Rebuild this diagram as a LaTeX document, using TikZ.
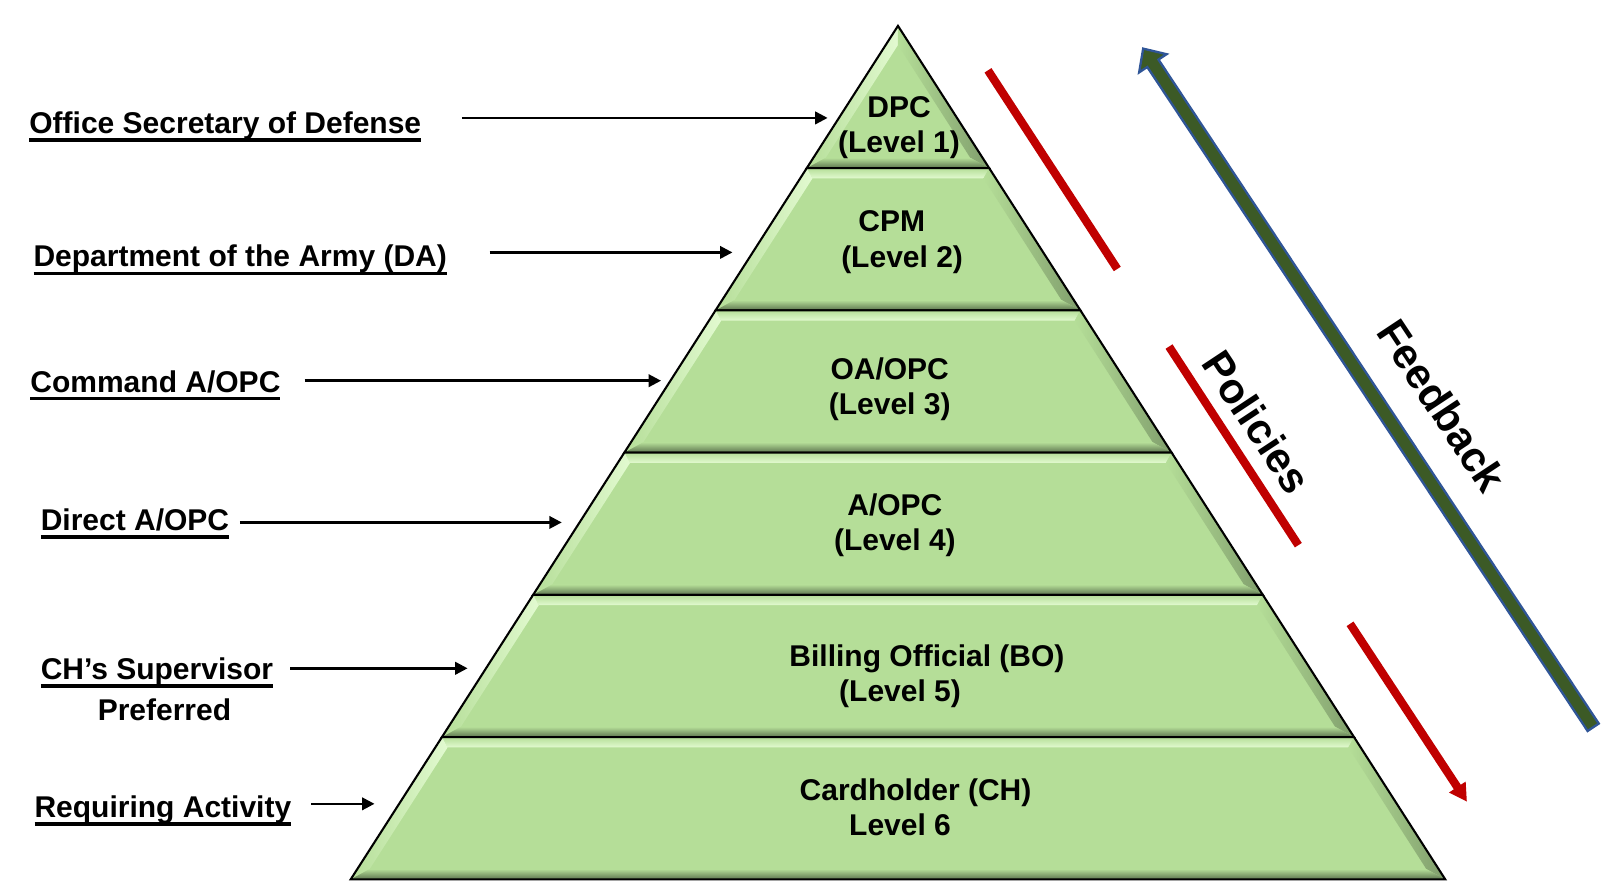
\documentclass[tikz,border=0pt]{standalone}
\usepackage{fontspec}
\setmainfont{Liberation Sans}
\usetikzlibrary{arrows.meta}
\definecolor{tierfill}{RGB}{181,222,152}
\definecolor{tierlight}{RGB}{226,250,208}
\definecolor{tierdark}{RGB}{92,116,78}
\definecolor{tierside}{RGB}{128,158,108}
\definecolor{policyred}{RGB}{192,0,0}
\definecolor{fbgreen}{RGB}{60,90,38}
\definecolor{fbblue}{RGB}{47,85,151}
\newcommand{\lvlul}[1]{\setbox0\hbox{#1}\rlap{\rule[-4pt]{\wd0}{1.7pt}}\box0}
\tikzset{
  lvllabel/.style={anchor=base west, inner sep=0pt, font=\bfseries\fontsize{14.5}{17}\selectfont},
  tiertext/.style={align=center, inner sep=0pt, font=\bfseries\fontsize{14.5}{17}\selectfont},
  lvlarrow/.style={-{Triangle[length=6pt,width=6pt]}, line width=1.2pt},
  redbar/.style={policyred, line width=4pt},
  sidetext/.style={rotate=-56.5, inner sep=0pt, font=\bfseries\fontsize{20.5}{24}\selectfont}
}

\begin{document}
\begin{tikzpicture}[x=0.5pt,y=-0.5pt]
\useasboundingbox (0,0) rectangle (1564,854.5);

% pyramid, six tiers with a bevel
\foreach \i in {1,...,6}{
  \pgfmathsetmacro\ytop{25+137.5*(\i-1)}
  \pgfmathsetmacro\ybot{25+137.5*\i}
  \pgfmathsetmacro\wtop{0.6412*(\ytop-25)}
  \pgfmathsetmacro\wbot{0.6412*(\ybot-25)}
  \pgfmathsetmacro\iytop{max(\ytop+10,43.5)}
  \pgfmathsetmacro\iybot{\ybot-10}
  \pgfmathsetmacro\iwtop{max(0.6412*(\iytop-25)-11.9,0)}
  \pgfmathsetmacro\iwbot{0.6412*(\iybot-25)-11.9}
  \fill[tierfill] (868-\wtop,\ytop) -- (868+\wtop,\ytop) -- (868+\wbot,\ybot) -- (868-\wbot,\ybot) -- cycle;
  \ifnum\i>1
    \shade[top color=tierfill, bottom color=tierlight] (868-\wtop,\ytop) -- (868+\wtop,\ytop) -- (868+\iwtop,\iytop) -- (868-\iwtop,\iytop) -- cycle;
  \fi
  \shade[left color=tierfill, right color=tierlight] (868-\wtop,\ytop) -- (868-\iwtop,\iytop) -- (868-\iwbot,\iybot) -- (868-\wbot,\ybot) -- cycle;
  \shade[left color=tierfill, right color=tierside] (868+\wtop,\ytop) -- (868+\iwtop,\iytop) -- (868+\iwbot,\iybot) -- (868+\wbot,\ybot) -- cycle;
  \shade[top color=tierfill, bottom color=tierdark] (868-\iwbot,\iybot) -- (868+\iwbot,\iybot) -- (868+\wbot,\ybot) -- (868-\wbot,\ybot) -- cycle;
  \draw[line width=1pt] (868-\wtop,\ytop) -- (868+\wtop,\ytop) -- (868+\wbot,\ybot) -- (868-\wbot,\ybot) -- cycle;
}

\node[tiertext] (t1) at (869,123) {DPC\\(Level 1)};
\node[tiertext] (t2) at (872,234) {CPM\hspace*{10pt}\\(Level 2)};
\node[tiertext] (t3) at (860,376) {OA/OPC\\(Level 3)};
\node[tiertext] (t4) at (865,508) {A/OPC\\(Level 4)};
\node[tiertext] (t5) at (896,654) {Billing Official (BO)\\(Level 5)\hspace*{26pt}};
\node[tiertext] (t6) at (885,780) {Cardholder (CH)\\Level 6\hspace*{15pt}};

% who sits at each level
\node[lvllabel] (osd) at (28,129) {\lvlul{Office Secretary of Defense}};
\node[lvllabel] (da) at (32,258) {\lvlul{Department of the Army (DA)}};
\node[lvllabel] (cmd) at (29,379) {\lvlul{Command A/OPC}};
\node[lvllabel] (direct) at (39,513) {\lvlul{Direct A/OPC}};
\node[lvllabel] (chsup) at (39,657) {\lvlul{CH’s Supervisor}};
\node[tiertext, anchor=base] (chpref) at (159,696) {Preferred};
\node[lvllabel] (reqact) at (33,790) {\lvlul{Requiring Activity}};

\coordinate (osd-end) at (800,114);
\coordinate (da-end) at (708,244);
\coordinate (cmd-end) at (639,368);
\coordinate (direct-end) at (543,505);
\coordinate (chsup-end) at (452,646);
\coordinate (reqact-end) at (362,777);
\foreach \n/\gap in {osd/39, da/41, cmd/23, direct/10, chsup/16, reqact/19}
  \draw[lvlarrow] (\n-end -| \n.east) ++(\gap,0) -- (\n-end);

% policies going down
\draw[redbar] (955,68) -- (1080,260);
\draw[redbar] (1130,335) -- (1255,527);
\draw[redbar, -{Triangle[length=8.5pt,width=9pt]}] (1305,603) -- (1418,775);
\node[sidetext] (policies) at (1215,408) {Policies};

% feedback going up
\filldraw[fill=fbgreen, draw=fbblue, line width=1.1pt, line join=miter]
  (1545.4,699.4) -- (1119.8,57.6) -- (1127.7,52.4) -- (1105,47) -- (1101.1,70.0) -- (1109.0,64.8) -- (1534.6,706.6) -- cycle;
\node[sidetext] (feedback) at (1394,392) {Feedback};
\end{tikzpicture}
\end{document}
